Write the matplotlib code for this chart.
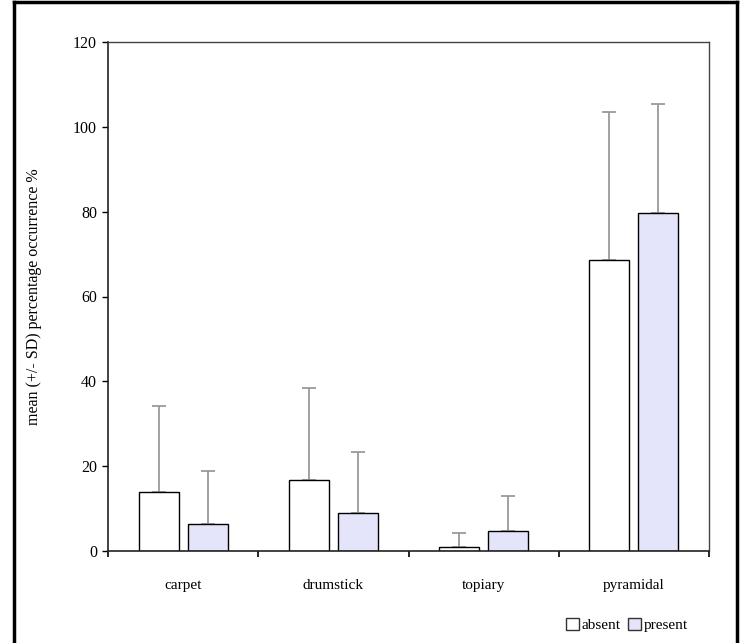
import matplotlib
matplotlib.use("Agg")
import matplotlib.pyplot as plt
from matplotlib.patches import Patch
from matplotlib.lines import Line2D
import numpy as np

categories = ["carpet", "drumstick", "topiary", "pyramidal"]
absent_mean = [13.8, 16.7, 0.9, 68.6]
absent_sd = [20.3, 21.8, 3.4, 35.0]
present_mean = [6.3, 9.0, 4.6, 79.8]
present_sd = [12.6, 14.3, 8.3, 25.5]
series_names = ["absent", "present"]

plt.rcParams["font.family"] = ["Liberation Serif", "DejaVu Serif"]

fig = plt.figure(figsize=(7.44, 6.43), dpi=100)
ax = fig.add_axes([108 / 744, 1 - 551 / 643, (709 - 108) / 744, (551 - 42) / 643])

x = np.arange(len(categories))
width = 0.267
offset = 0.163
present_color = "#e4e4fb"
err_color = "#9a9a9a"

ax.bar(x - offset, absent_mean, width, color="white", edgecolor="black", linewidth=1.0, zorder=2)
ax.bar(x + offset, present_mean, width, color=present_color, edgecolor="black", linewidth=1.0, zorder=2)

err_kw = dict(fmt="none", ecolor=err_color, elinewidth=1.3, capsize=5, capthick=1.3, zorder=1)
ax.errorbar(x - offset, absent_mean, yerr=[np.zeros(len(x)), absent_sd], **err_kw)
ax.errorbar(x + offset, present_mean, yerr=[np.zeros(len(x)), present_sd], **err_kw)

ax.set_xlim(-0.5, len(categories) - 0.5)
ax.set_ylim(0, 120)
ax.set_yticks(np.arange(0, 121, 20))
ax.set_xticks(x)
ax.set_xticklabels(categories, fontsize=11)
ax.set_xticks(np.arange(-0.5, len(categories), 1.0), minor=True)
ax.tick_params(axis="x", which="major", length=0, pad=20)
ax.tick_params(axis="x", which="minor", length=4, width=1.2, direction="out")
ax.tick_params(axis="y", length=4, width=1.0, direction="out", labelsize=11.5, pad=4)

for side in ["left", "bottom"]:
    ax.spines[side].set_linewidth(1.2)
    ax.spines[side].set_color("#222222")
for side in ["top", "right"]:
    ax.spines[side].set_linewidth(1.0)
    ax.spines[side].set_color("#444444")

ax.set_ylabel("mean (+/- SD) percentage occurrence %", fontsize=11.5, labelpad=22)

handles = [
    Patch(facecolor="white", edgecolor="#333333", linewidth=1.0),
    Patch(facecolor=present_color, edgecolor="#333333", linewidth=1.0),
]
fig.legend(handles, series_names, loc="center", bbox_to_anchor=(627 / 744, 1 - 625 / 643),
           ncol=2, frameon=False, fontsize=11, handlelength=0.85, handleheight=0.85,
           handletextpad=0.15, columnspacing=0.5, borderpad=0)

# outer frame around the figure
frame_kw = dict(color="black", linewidth=2.5, transform=fig.transFigure)
fig.add_artist(Line2D([14 / 744, 14 / 744], [0, 1 - 2 / 643], **frame_kw))
fig.add_artist(Line2D([14 / 744, 737 / 744], [1 - 2 / 643, 1 - 2 / 643], **frame_kw))
fig.add_artist(Line2D([737 / 744, 737 / 744], [0, 1 - 2 / 643], **frame_kw))

fig.savefig("out.png", dpi=100, facecolor="white")
